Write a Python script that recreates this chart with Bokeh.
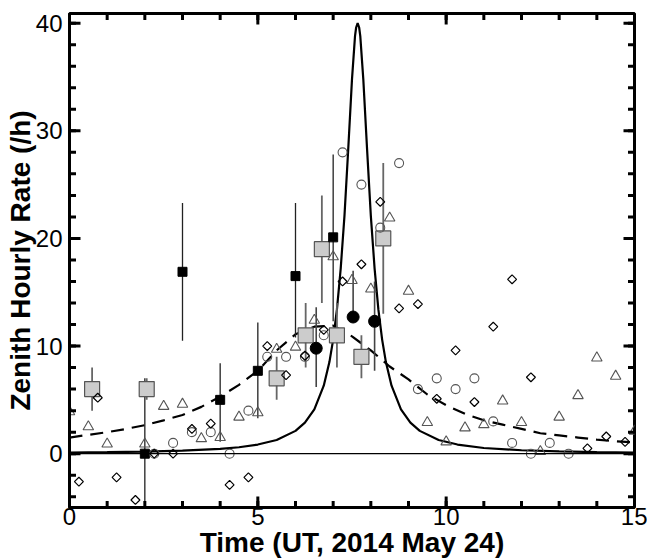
import math
from bokeh.plotting import figure
from bokeh.models import ColumnDataSource, Range1d, Span, FixedTicker
from bokeh.embed import file_html
from bokeh.resources import INLINE

# ---------------- data ----------------
x_ticks = [0, 5, 10, 15]
x_minor = list(range(0, 16))
y_ticks = [0, 10, 20, 30, 40]
y_minor = list(range(-4, 41, 2))
x_lim = (0, 15)
y_lim = (-5.0, 40.9)

x_label = "Time (UT, 2014 May 24)"
y_label = "Zenith Hourly Rate (/h)"

# open triangles
tri_x = [0.0, 0.5, 1.0, 2.0, 2.5, 3.0, 3.5, 4.0, 4.5, 5.0, 5.5, 6.0, 6.5, 7.0, 7.5,
         8.0, 8.5, 9.0, 9.5, 10.0, 10.5, 11.0, 11.5, 12.0, 12.5, 13.0, 13.5, 14.0, 14.5, 15.0]
tri_y = [3.9, 2.5, 0.9, 0.9, 4.4, 4.6, 1.4, 1.5, 3.4, 3.8, 9.7, 9.9, 12.4, 18.3, 16.1,
         15.3, 21.9, 15.1, 2.9, 1.1, 2.4, 2.7, 4.9, 2.9, 0.2, 3.4, 5.4, 8.9, 7.2, 2.1]

# open circles
circ_x = [2.25, 2.75, 3.25, 3.75, 4.25, 4.75, 5.25, 5.75, 6.25, 6.75, 7.25, 7.75,
          8.25, 8.75, 9.25, 9.75, 10.25, 10.75, 11.25, 11.75, 12.25, 12.75, 13.25]
circ_y = [0, 1, 2, 2, 0, 4, 9, 9, 9, 11, 28, 25, 21, 27, 6, 7, 6, 7, 3, 1, 0, 1, 0]

# open diamonds
diam_x = [0.25, 0.75, 1.25, 1.75, 2.25, 2.75, 3.25, 3.75, 4.25, 4.75, 5.25, 5.75, 6.25,
          6.75, 7.25, 7.75, 8.25, 8.75, 9.25, 9.75, 10.25, 10.75, 11.25, 11.75, 12.25,
          13.75, 14.25, 14.75]
diam_y = [-2.6, 5.2, -2.2, -4.3, 0.0, 0.0, 2.3, 2.8, -2.9, -2.2, 10.0, 7.3, 9.1,
          11.5, 16.0, 17.6, 23.4, 13.5, 13.9, 5.1, 9.6, 4.8, 11.8, 16.2, 7.1,
          0.5, 1.6, 1.1]

# filled black squares with error bars
bsq_x = [2.0, 3.0, 4.0, 5.0, 6.0, 7.0]
bsq_y = [0.0, 16.9, 5.0, 7.7, 16.5, 20.1]
bsq_lo = [-7.0, 10.5, 1.1, 3.3, 10.8, 12.3]
bsq_hi = [7.0, 23.3, 8.4, 12.2, 23.3, 27.8]

# large grey squares with error bars
gsq_x = [0.6, 2.05, 5.5, 6.27, 6.7, 7.1, 7.75, 8.33]
gsq_y = [6, 6, 7, 11, 19, 11, 9, 20]
gsq_err = [2, 1, 2, 3, 5, 3, 2, 7]

# filled black circles with error bars
bci_x = [6.55, 7.53, 8.1]
bci_y = [9.8, 12.7, 12.3]
bci_lo = [6.2, 12.7, 7.7]
bci_hi = [13.6, 17.0, 16.0]

# dashed model curve
dash_x = [0, 0.5, 1, 1.5, 2, 2.5, 3, 3.5, 4, 4.5, 5, 5.5, 6, 6.5, 7, 7.5, 8, 8.5, 9,
          9.5, 10, 10.5, 11, 11.5, 12, 12.5, 13, 13.5, 14, 14.5, 15]
dash_y = [1.5, 1.75, 2.0, 2.3, 2.65, 3.1, 3.6, 4.35, 5.3, 6.4, 7.7, 9.6, 11.1, 11.8,
          11.9, 10.9, 9.6, 8.1, 6.9, 5.5, 4.5, 3.7, 3.1, 2.7, 2.3, 1.9, 1.7, 1.5, 1.3,
          1.15, 1.05]

# solid model curve
sol_x = [0, 1, 2, 3, 4, 4.5, 5, 5.5, 6, 6.25, 6.5, 6.75, 6.9, 7.0, 7.1, 7.2, 7.3, 7.4,
         7.5, 7.58, 7.61, 7.65, 7.69, 7.72, 7.8, 7.9, 8.0, 8.1, 8.2, 8.3, 8.4, 8.55,
         8.8, 9.05, 9.3, 9.8, 10.3, 11, 12, 13, 14, 15]
sol_y = [0.10, 0.14, 0.19, 0.28, 0.45, 0.60, 0.85, 1.27, 2.12, 2.88, 4.12, 6.32, 8.51,
         10.6, 13.4, 17.2, 22.1, 28.3, 34.8, 38.8, 39.6, 40.0, 39.6, 38.8, 34.8, 28.3,
         22.1, 17.2, 13.4, 10.6, 8.51, 6.32, 4.12, 2.88, 2.12, 1.27, 0.85, 0.53, 0.32,
         0.21, 0.15, 0.11]

# ---------------- figure ----------------
FONT = "Liberation Sans"
W, H = 647, 560
BL, BR, BT, BB = 69, 13, 13, 51

p = figure(width=W, height=H, x_range=Range1d(*x_lim), y_range=Range1d(*y_lim),
           output_backend="svg", toolbar_location=None,
           x_axis_label=x_label, y_axis_label=y_label)
p.min_border_left = BL
p.min_border_right = BR
p.min_border_top = BT
p.min_border_bottom = BB
p.xgrid.visible = False
p.ygrid.visible = False
p.outline_line_color = "black"
p.outline_line_width = 3

p.xaxis.ticker = FixedTicker(ticks=x_ticks, minor_ticks=x_minor)
p.yaxis.ticker = FixedTicker(ticks=y_ticks, minor_ticks=y_minor)
for ax in (p.xaxis[0], p.yaxis[0]):
    ax.axis_line_color = "black"
    ax.axis_line_width = 3
    ax.major_tick_in = 0
    ax.major_tick_out = 0
    ax.minor_tick_in = 0
    ax.minor_tick_out = 0
    ax.major_label_text_font = FONT
    ax.major_label_text_font_size = "24px"
    ax.major_label_text_color = "black"
    ax.axis_label_text_font = FONT
    ax.axis_label_text_font_size = "28px"
    ax.axis_label_text_font_style = "bold"
    ax.axis_label_text_color = "black"
p.xaxis.major_label_standoff = 0
p.xaxis.axis_label_standoff = -1
p.yaxis.major_label_standoff = 7
p.yaxis.axis_label_standoff = -3

# zero line
p.add_layout(Span(location=0, dimension="width", line_color="black", line_width=1.3))

# model curves
p.line(sol_x, sol_y, line_color="black", line_width=2.2)
p.line(dash_x, dash_y, line_color="black", line_width=2.2, line_dash="13 8")

# error bars
bsq = ColumnDataSource(dict(x=bsq_x, y=bsq_y, lo=bsq_lo, hi=bsq_hi))
gsq = ColumnDataSource(dict(x=gsq_x, y=gsq_y,
                            lo=[v - e for v, e in zip(gsq_y, gsq_err)],
                            hi=[v + e for v, e in zip(gsq_y, gsq_err)]))
bci = ColumnDataSource(dict(x=bci_x, y=bci_y, lo=bci_lo, hi=bci_hi))

p.segment(x0="x", y0="lo", x1="x", y1="hi", source=gsq, line_color="#666666", line_width=1.8)
p.segment(x0="x", y0="lo", x1="x", y1="hi", source=bsq, line_color="#222222", line_width=1.3)
p.segment(x0="x", y0="lo", x1="x", y1="hi", source=bci, line_color="#444444", line_width=1.6)

# markers
p.scatter(gsq_x, gsq_y, marker="square", size=15, fill_color="#cccccc",
          line_color="#555555", line_width=1.2)
p.scatter(bsq_x, bsq_y, marker="square", size=9, fill_color="black", line_color="black")
p.scatter(bci_x, bci_y, marker="circle", size=12, fill_color="black", line_color="black")
p.scatter(tri_x, tri_y, marker="triangle", size=10.5, fill_color=None,
          line_color="#555555", line_width=1.1)
p.scatter(circ_x, circ_y, marker="circle", size=9, fill_color=None,
          line_color="#555555", line_width=1.1)
p.scatter(diam_x, diam_y, marker="square", size=6.3, angle=math.pi / 4, fill_color=None,
          line_color="black", line_width=1.2)

# inward ticks on all four sides: filled bars centred on the frame edges
# (the half outside the frame is clipped away)
MAJ, MIN, TW = 22, 13, 3


def xticks(pos, length):
    n = len(pos)
    for edge in y_lim:
        p.rect(x=pos, y=[edge] * n, width=TW, height=length, width_units="screen",
               height_units="screen", fill_color="black", line_color=None)


def yticks(pos, length):
    n = len(pos)
    for edge in x_lim:
        p.rect(x=[edge] * n, y=pos, width=length, height=TW, width_units="screen",
               height_units="screen", fill_color="black", line_color=None)


xticks(x_minor, MIN)
xticks(x_ticks, MAJ)
yticks(y_minor, MIN)
yticks(y_ticks, MAJ)

open("out.html", "w").write(file_html(p, INLINE))
